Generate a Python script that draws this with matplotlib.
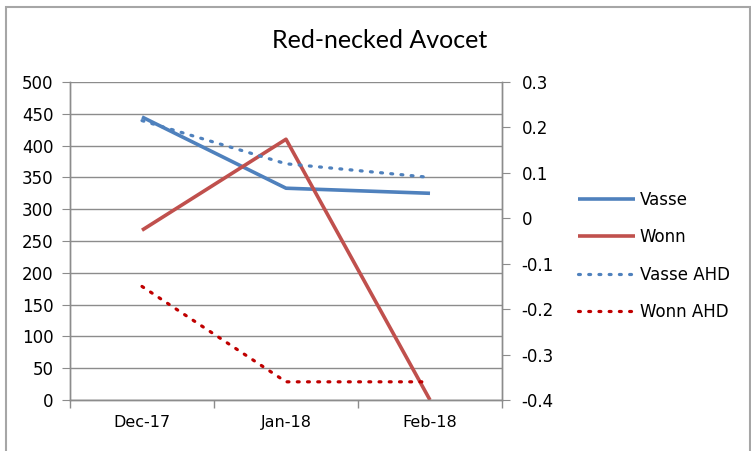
import matplotlib
matplotlib.use("Agg")
import matplotlib.pyplot as plt
from matplotlib.patches import Rectangle
from matplotlib.ticker import FixedLocator, NullFormatter

categories = ["Dec-17", "Jan-18", "Feb-18"]
vasse = [445, 333, 325]
wonn = [267, 410, 0]
vasse_ahd = [0.215, 0.12, 0.09]
wonn_ahd = [-0.15, -0.36, -0.36]
left_ticks = [0, 50, 100, 150, 200, 250, 300, 350, 400, 450, 500]
right_ticks = [-0.4, -0.3, -0.2, -0.1, 0, 0.1, 0.2, 0.3]

plt.rcParams['font.family'] = ['DejaVu Sans']
W, H = 751, 451
fig = plt.figure(figsize=(W / 100, H / 100), dpi=100)
fig.patch.set_facecolor('white')

# chart frame
fig.patches.append(Rectangle((6.5 / W, -0.1), (750 - 6.5) / W, 1.1 - 6.5 / H,
                             transform=fig.transFigure, fill=False,
                             edgecolor='#A6A6A6', linewidth=1.5))

ax = fig.add_axes([70 / W, (H - 400) / H, 432 / W, 318 / H])
ax2 = ax.twinx()

x = list(range(len(categories)))
grid_c = '#8C8C8C'

l1, = ax.plot(x, vasse, color='#4F81BD', lw=2.6, solid_capstyle='butt', label='Vasse')
l2, = ax.plot(x, wonn, color='#C0504D', lw=2.6, solid_capstyle='butt', label='Wonn')
l3, = ax2.plot(x, vasse_ahd, color='#4F81BD', lw=2.3, linestyle=(0, (0.6, 2.6)),
               dash_capstyle='round', label='Vasse AHD')
l4, = ax2.plot(x, wonn_ahd, color='#C00000', lw=2.3, linestyle=(0, (0.6, 2.6)),
               dash_capstyle='round', label='Wonn AHD')

ax.set_xlim(-0.5, 2.5)
ax.set_ylim(0, 500)
ax2.set_ylim(-0.4, 0.3)
ax.set_yticks(left_ticks)
ax2.set_yticks(right_ticks)
ax2.yaxis.set_major_formatter(plt.FuncFormatter(lambda v, p: ('%g' % round(v, 1))))

ax.xaxis.set_major_locator(FixedLocator([-0.5, 0.5, 1.5, 2.5]))
ax.xaxis.set_major_formatter(NullFormatter())
ax.xaxis.set_minor_locator(FixedLocator(x))
ax.set_xticks(x, categories, minor=True)
ax.tick_params(axis='x', which='minor', length=0, pad=11, labelsize=11.5, colors='black')
ax.tick_params(axis='x', which='major', length=6, color=grid_c, width=1)

ax.yaxis.grid(True, color=grid_c, lw=1)
ax.set_axisbelow(True)
ax.tick_params(axis='y', length=6, color=grid_c, labelsize=12, pad=6, labelcolor='black')
ax2.tick_params(axis='y', length=6, color=grid_c, labelsize=12, pad=8, labelcolor='black')

for a in (ax, ax2):
    a.spines['top'].set_visible(False)
    for s in ['left', 'right', 'bottom']:
        a.spines[s].set_color(grid_c)
        a.spines[s].set_linewidth(1)

fig.text(380 / W, 1 - 40 / H, 'Red-necked Avocet', ha='center', va='center',
         fontsize=18, family=['Lato', 'DejaVu Sans'])

leg = fig.legend(handles=[l1, l2, l3, l4], loc='center left',
                 bbox_to_anchor=(563 / W, 1 - 256 / H), frameon=False,
                 fontsize=12, handlelength=3.4, handletextpad=0.3, labelspacing=1.17)

fig.savefig('out.png', dpi=100, facecolor='white')
